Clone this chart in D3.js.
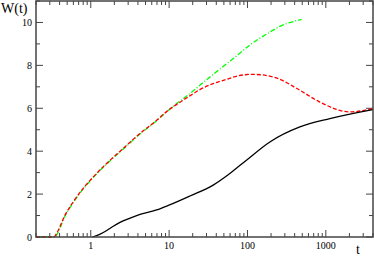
<!DOCTYPE html>
<html>
<head>
<meta charset="utf-8">
<script src="https://cdn.jsdelivr.net/npm/d3@7"></script>
<style>
  body { margin: 0; background: #fff; }
  svg { display: block; }
  text { font-family: "Liberation Serif", "DejaVu Serif", serif; fill: #000; }
</style>
</head>
<body>
<div id="chart"></div>
<script>
// chart size
const width = 374, height = 259;
const margin = {top: 1, right: 1, bottom: 22, left: 36};

// data
const tBlack = [1.05, 1.3, 1.6, 1.94, 2.36, 3.85, 6.93, 9.75, 18.4, 36.5, 59.6, 97, 193, 466, 1125, 3980];
const wBlack = [0, 0.12, 0.3, 0.5, 0.68, 1.0, 1.26, 1.47, 1.91, 2.42, 2.96, 3.58, 4.43, 5.13, 5.52, 5.94];

const tRed = [0.2, 0.34, 0.367, 0.469, 0.598, 0.802, 1.076, 1.595, 2.6, 4.25, 6.93, 9.75, 12.5, 18.4, 24.7, 36.5, 54, 76, 110, 150, 247, 466, 838, 2020, 3980];
const wRed = [0, 0, 0.17, 1.02, 1.64, 2.27, 2.80, 3.43, 4.13, 4.83, 5.44, 5.91, 6.18, 6.58, 6.87, 7.15, 7.35, 7.51, 7.58, 7.56, 7.38, 6.84, 6.29, 5.83, 5.99];

const tGreen = [0.2, 0.345, 0.37, 0.469, 0.598, 0.802, 1.076, 1.595, 2.6, 4.25, 6.93, 9.75, 12.5, 17.5, 27.2, 36.5, 49, 76, 107, 193, 247, 490];
const wGreen = [0, 0, 0.12, 0.98, 1.6, 2.24, 2.77, 3.4, 4.1, 4.8, 5.42, 5.9, 6.22, 6.62, 7.2, 7.58, 7.95, 8.5, 8.95, 9.55, 9.78, 10.14];

const xMajor = [1, 10, 100, 1000];
const yMajor = [0, 2, 4, 6, 8, 10];

let svg = d3.select("#chart")
    .append("svg")
    .attr("width", width)
    .attr("height", height);

let x = d3.scaleLog()
    .domain([0.2, 4000])
    .range([margin.left, width - margin.right]);

let y = d3.scaleLinear()
    .domain([0, 11])
    .range([height - margin.bottom, margin.top]);

// minor ticks on the log axis: 2..9 of each decade
let xMinor = [];
for (let e = -1; e <= 3; e++) {
    for (let k = 2; k <= 9; k++) {
        let v = k * Math.pow(10, e);
        if (v >= 0.2 && v <= 4000) xMinor.push(v);
    }
}
let yMinor = [1, 3, 5, 7, 9, 11];

const axisColor = "#444";
let xL = margin.left, xR = width - margin.right;
let yT = margin.top, yB = height - margin.bottom;

// ticks, pointing inward on all four sides
let ticks = svg.append("g").attr("stroke", axisColor).attr("stroke-width", 1);

xMajor.forEach(function(v) {
    ticks.append("line").attr("x1", x(v)).attr("x2", x(v)).attr("y1", yB).attr("y2", yB - 7);
    ticks.append("line").attr("x1", x(v)).attr("x2", x(v)).attr("y1", yT).attr("y2", yT + 7);
});
xMinor.forEach(function(v) {
    ticks.append("line").attr("x1", x(v)).attr("x2", x(v)).attr("y1", yB).attr("y2", yB - 4);
    ticks.append("line").attr("x1", x(v)).attr("x2", x(v)).attr("y1", yT).attr("y2", yT + 4);
});
yMajor.forEach(function(v) {
    ticks.append("line").attr("x1", xL).attr("x2", xL + 7).attr("y1", y(v)).attr("y2", y(v));
    ticks.append("line").attr("x1", xR).attr("x2", xR - 7).attr("y1", y(v)).attr("y2", y(v));
});
yMinor.forEach(function(v) {
    ticks.append("line").attr("x1", xL).attr("x2", xL + 4).attr("y1", y(v)).attr("y2", y(v));
    ticks.append("line").attr("x1", xR).attr("x2", xR - 4).attr("y1", y(v)).attr("y2", y(v));
});

// curves
let line = d3.line()
    .x(function(d) { return x(d[0]); })
    .y(function(d) { return y(d[1]); })
    .curve(d3.curveMonotoneX);

svg.append("path")
    .datum(d3.zip(tGreen, wGreen))
    .attr("fill", "none")
    .attr("stroke", "#00ff00")
    .attr("stroke-width", 1.3)
    .attr("stroke-dasharray", "5,2,1,2")
    .attr("d", line);

svg.append("path")
    .datum(d3.zip(tRed, wRed))
    .attr("fill", "none")
    .attr("stroke", "#ff0000")
    .attr("stroke-width", 1.3)
    .attr("stroke-dasharray", "4,2")
    .attr("d", line);

svg.append("path")
    .datum(d3.zip(tBlack, wBlack))
    .attr("fill", "none")
    .attr("stroke", "#000")
    .attr("stroke-width", 1.3)
    .attr("d", line);

// frame
svg.append("rect")
    .attr("x", xL)
    .attr("y", yT)
    .attr("width", xR - xL)
    .attr("height", yB - yT)
    .attr("fill", "none")
    .attr("stroke", axisColor)
    .attr("stroke-width", 1.5);

// tick labels
svg.selectAll(".xl").data(xMajor).enter()
    .append("text")
    .attr("x", function(d) { return x(d); })
    .attr("y", yB + 12)
    .style("text-anchor", "middle")
    .style("font-size", "10px")
    .text(function(d) { return d; });

svg.selectAll(".yl").data(yMajor).enter()
    .append("text")
    .attr("x", xL - 4)
    .attr("y", function(d) { return y(d) + 3.5; })
    .style("text-anchor", "end")
    .style("font-size", "10px")
    .text(function(d) { return d; });

// axis titles
svg.append("text")
    .attr("x", 1)
    .attr("y", 13)
    .style("font-size", "14px")
    .text("W(t)");

svg.append("text")
    .attr("x", 356)
    .attr("y", 254)
    .style("font-size", "14px")
    .text("t");
</script>
</body>
</html>
